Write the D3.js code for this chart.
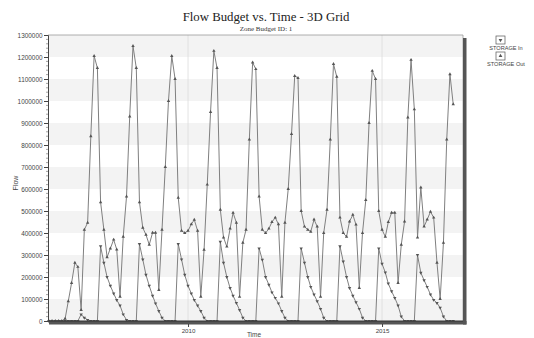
<!DOCTYPE html>
<html><head><meta charset="utf-8">
<script src="https://cdn.jsdelivr.net/npm/d3@7"></script>
<style>body{margin:0;background:#fff}svg{display:block}</style>
</head><body><svg id="c" width="534" height="338"></svg>
<script>
// ---- data ----
const months = ["2006-06","2006-07","2006-08","2006-09","2006-10","2006-11","2006-12",
"2007-01","2007-02","2007-03","2007-04","2007-05","2007-06","2007-07","2007-08","2007-09","2007-10","2007-11","2007-12",
"2008-01","2008-02","2008-03","2008-04","2008-05","2008-06","2008-07","2008-08","2008-09","2008-10","2008-11","2008-12",
"2009-01","2009-02","2009-03","2009-04","2009-05","2009-06","2009-07","2009-08","2009-09","2009-10","2009-11","2009-12",
"2010-01","2010-02","2010-03","2010-04","2010-05","2010-06","2010-07","2010-08","2010-09","2010-10","2010-11","2010-12",
"2011-01","2011-02","2011-03","2011-04","2011-05","2011-06","2011-07","2011-08","2011-09","2011-10","2011-11","2011-12",
"2012-01","2012-02","2012-03","2012-04","2012-05","2012-06","2012-07","2012-08","2012-09","2012-10","2012-11","2012-12",
"2013-01","2013-02","2013-03","2013-04","2013-05","2013-06","2013-07","2013-08","2013-09","2013-10","2013-11","2013-12",
"2014-01","2014-02","2014-03","2014-04","2014-05","2014-06","2014-07","2014-08","2014-09","2014-10","2014-11","2014-12",
"2015-01","2015-02","2015-03","2015-04","2015-05","2015-06","2015-07","2015-08","2015-09","2015-10","2015-11","2015-12",
"2016-01","2016-02","2016-03","2016-04","2016-05","2016-06","2016-07","2016-08","2016-09","2016-10","2016-11"];

const storageOut = [0,0,0,0,0,10000,90000,
173000,265000,246000,50000,415000,447000,840000,1205000,1150000,540000,415000,290000,
330000,370000,325000,110000,383000,566000,930000,1250000,1150000,540000,424000,392000,
347000,401000,401000,141000,415000,700000,1000000,1205000,1100000,560000,410000,400000,
410000,440000,460000,410000,110000,324000,620000,950000,1228000,1150000,506000,380000,
338000,420000,492000,447000,110000,356000,415000,825000,1175000,1145000,566000,415000,
400000,420000,450000,470000,440000,110000,447000,600000,850000,1114000,1105000,500000,
429000,415000,406000,461000,429000,110000,400000,506000,825000,1168000,1110000,470000,
400000,383000,452000,483000,438000,150000,400000,550000,900000,1137000,1100000,500000,
415000,383000,450000,492000,492000,173000,347000,452000,925000,1187000,962000,380000,
607000,430000,461000,497000,470000,265000,100000,356000,825000,1122000,985000];

const storageIn = [0,0,0,0,0,0,0,
0,0,0,30000,15000,5000,0,0,0,340000,265000,200000,
160000,125000,95000,70000,30000,5000,0,0,0,350000,280000,210000,
160000,115000,80000,45000,15000,0,0,0,0,350000,280000,210000,
160000,125000,95000,70000,45000,15000,0,0,0,0,360000,265000,
200000,150000,115000,82000,50000,15000,0,0,0,0,330000,278000,
200000,165000,130000,105000,80000,45000,15000,0,0,0,0,330000,
265000,200000,155000,120000,90000,55000,15000,0,0,0,0,340000,
270000,200000,150000,115000,85000,55000,15000,0,0,0,0,330000,
260000,220000,170000,135000,105000,70000,20000,0,0,0,0,300000,
219000,185000,155000,120000,96000,82000,60000,20000,0,0,0];

const yTicks = [0,100000,200000,300000,400000,500000,600000,700000,800000,900000,1000000,1100000,1200000,1300000];
const xTickYears = ["2010","2015"];
const seriesNames = ["STORAGE In","STORAGE Out"];
const titleText = "Flow Budget vs. Time - 3D Grid";
const subtitleText = "Zone Budget ID: 1";

// ---- layout ----
const W = 534, H = 338;
const L = 48, R = 463, T = 35, B = 321;
const svg = d3.select("#c");
const parse = d3.timeParse("%Y-%m");
const dates = months.map(parse);

const x = d3.scaleTime().domain([new Date(2006,4,24), new Date(2017,1,1)]).range([L, R]);
const y = d3.scaleLinear().domain([0, 1300000]).range([B, T]);

svg.append("rect").attr("width",W).attr("height",H).attr("fill","#fff");

// bands
const bands = yTicks.slice(0,-1).filter((d,i)=>i%2===0);
svg.append("g").selectAll("rect").data(bands).join("rect")
  .attr("x",L).attr("width",R-L)
  .attr("y",d=>y(d+100000)).attr("height",d=>y(d)-y(d+100000))
  .attr("fill","#f3f3f3");

// vertical grid
const yearDates = xTickYears.map(s=>d3.timeParse("%Y")(s));
svg.append("g").selectAll("line").data(yearDates).join("line")
  .attr("x1",d=>x(d)).attr("x2",d=>x(d)).attr("y1",T).attr("y2",B)
  .attr("stroke","#dcdcdc").attr("stroke-width",0.8);

// series
const series = [
  {name: seriesNames[0], values: storageIn, sym: d3.symbolTriangle, rot: 180},
  {name: seriesNames[1], values: storageOut, sym: d3.symbolTriangle, rot: 0}
];
const line = d3.line().x((d,i)=>x(dates[i])).y(d=>y(d));
series.forEach(s=>{
  svg.append("path").attr("d", line(s.values)).attr("fill","none")
    .attr("stroke","#808080").attr("stroke-width",1);
});
series.forEach(s=>{
  const sym = d3.symbol().type(s.sym).size(5);
  svg.append("g").selectAll("path").data(s.values).join("path")
    .attr("d", sym)
    .attr("transform",(d,i)=>`translate(${x(dates[i])},${y(d)}) rotate(${s.rot})`)
    .attr("fill","#555");
});

// frame
svg.append("line").attr("x1",L).attr("x2",R).attr("y1",T).attr("y2",T).attr("stroke","#999").attr("stroke-width",0.8);
svg.append("line").attr("x1",R).attr("x2",R).attr("y1",T).attr("y2",B).attr("stroke","#999").attr("stroke-width",0.8);
// shadow
svg.append("rect").attr("x",R).attr("y",T+3).attr("width",3.5).attr("height",B-T+0.5).attr("fill","#555");
svg.append("rect").attr("x",L+1).attr("y",B).attr("width",R-L+2.5).attr("height",3.5).attr("fill","#555");
svg.append("line").attr("x1",L).attr("x2",R).attr("y1",B).attr("y2",B).attr("stroke","#333").attr("stroke-width",1);

// y axis
const yAxis = d3.axisLeft(y).tickValues(yTicks).tickFormat(d3.format("d")).tickSize(4).tickPadding(1.5);
const gy = svg.append("g").attr("transform",`translate(${L},0)`).call(yAxis);
gy.select(".domain").attr("stroke","#444");
gy.selectAll(".tick line").attr("stroke","#444");
gy.selectAll("text").attr("font-family","Liberation Sans, Arial, sans-serif").attr("font-size",6.4).attr("fill","#444");
const minor = d3.range(0,1300001,20000).filter(v=>v%100000!==0);
svg.append("g").selectAll("line").data(minor).join("line")
  .attr("x1",L-2).attr("x2",L).attr("y1",d=>y(d)).attr("y2",d=>y(d))
  .attr("stroke","#666").attr("stroke-width",0.6);

// x axis
const xAxis = d3.axisBottom(x).tickValues(yearDates).tickFormat(d3.timeFormat("%Y")).tickSize(3).tickPadding(2);
const gx = svg.append("g").attr("transform",`translate(0,${B+3})`).call(xAxis);
gx.select(".domain").remove();
gx.selectAll(".tick line").attr("stroke","#444");
gx.selectAll("text").attr("font-family","Liberation Sans, Arial, sans-serif").attr("font-size",6.2).attr("fill","#444");

// titles
svg.append("text").attr("x",266).attr("y",21).attr("text-anchor","middle")
  .attr("font-family","Liberation Serif, Times New Roman, serif").attr("font-size",12.8).attr("fill","#222").text(titleText);
svg.append("text").attr("x",266).attr("y",31).attr("text-anchor","middle")
  .attr("font-family","Liberation Serif, Times New Roman, serif").attr("font-size",7).attr("fill","#333").text(subtitleText);
svg.append("text").attr("transform","translate(18,183) rotate(-90)").attr("text-anchor","middle")
  .attr("font-family","Liberation Sans, Arial, sans-serif").attr("font-size",7).attr("fill","#444").text("Flow");
svg.append("text").attr("x",254).attr("y",337).attr("text-anchor","middle")
  .attr("font-family","Liberation Sans, Arial, sans-serif").attr("font-size",6.5).attr("fill","#444").text("Time");

// legend
const lg = svg.append("g");
series.forEach((s,i)=>{
  const cy = 40 + i*16;
  lg.append("rect").attr("x",496).attr("y",cy-4).attr("width",9).attr("height",8)
    .attr("fill","#fff").attr("stroke","#555").attr("stroke-width",0.7);
  lg.append("path").attr("d", d3.symbol().type(s.sym).size(6)())
    .attr("transform",`translate(500.5,${cy}) rotate(${s.rot})`).attr("fill","#555");
  lg.append("text").attr("x",506).attr("y",cy+9.5).attr("text-anchor","middle")
    .attr("font-family","Liberation Sans Narrow, Liberation Sans, Arial, sans-serif").attr("font-size",5.6).attr("fill","#444").text(s.name);
});
</script></body></html>
